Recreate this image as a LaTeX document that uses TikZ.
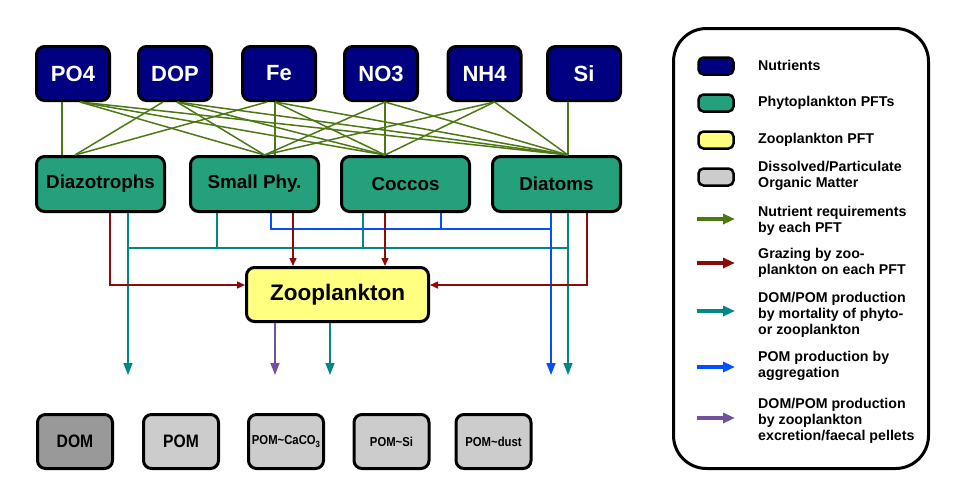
\documentclass[tikz,border=0pt]{standalone}
\usepackage{fontspec}
\setmainfont{Liberation Sans}
\newfontfamily\narrowsans[FakeStretch=0.87]{Liberation Sans}
\usetikzlibrary{arrows.meta,calc}
\definecolor{navyc}{RGB}{0,0,128}
\definecolor{phytoc}{RGB}{36,160,124}
\definecolor{zooc}{RGB}{255,255,128}
\definecolor{omc}{RGB}{204,204,204}
\definecolor{domc}{RGB}{153,153,153}
\definecolor{nutc}{RGB}{77,120,20}
\definecolor{grzc}{RGB}{140,10,10}
\definecolor{mortc}{RGB}{0,135,135}
\definecolor{aggc}{RGB}{0,80,255}
\definecolor{excc}{RGB}{112,80,160}
\begin{document}
\begin{tikzpicture}[x=1pt,y=-1pt,
  boxbase/.style={draw=black,line width=3pt,rounded corners=8pt,inner sep=0pt,font=\bfseries},
  nutbox/.style={boxbase,fill=navyc,text=white,minimum width=73pt,minimum height=54pt,font=\bfseries\fontsize{22}{25}\selectfont},
  phybox/.style={boxbase,fill=phytoc,minimum width=128pt,minimum height=55pt,font=\bfseries\fontsize{18.8}{22}\selectfont},
  zoobox/.style={boxbase,fill=zooc,minimum width=182pt,minimum height=54pt,font=\bfseries\fontsize{22.5}{26}\selectfont},
  ombox/.style={boxbase,fill=omc,minimum width=75pt,minimum height=54pt,font=\narrowsans\bfseries\fontsize{13}{15}\selectfont},
  swatch/.style={draw=black,line width=2.5pt,rounded corners=5pt,minimum width=35pt,minimum height=17pt,inner sep=0pt},
  legtext/.style={anchor=west,align=left,inner sep=0pt,font=\bfseries\fontsize{14.2}{16}\selectfont},
  nutline/.style={draw=nutc,line width=1.5pt},
  conn/.style={line width=1.5pt},
  bigtip/.style={-{Triangle[length=12pt,width=9pt]}},
  smalltip/.style={-{Triangle[length=8pt,width=7pt]}},
  legarrow/.style={line width=3.5pt,-{Triangle[length=12pt,width=10pt]}}
]
\useasboundingbox (0,0) rectangle (966,499);

% nutrients
\node[nutbox] (po4) at (73,73.5) {PO4};
\node[nutbox] (dop) at (175,73.5) {DOP};
\node[nutbox] (fe)  at (279,73.5) {Fe};
\node[nutbox] (no3) at (381,73.5) {NO3};
\node[nutbox] (nh4) at (484.5,73.5) {NH4};
\node[nutbox] (si)  at (584,73.5) {Si};

% phytoplankton
\node[phybox] (diaz) at (100.5,184) {Diazotrophs};
\node[phybox] (small) at (254.5,184) {Small Phy.};
\node[phybox] (cocc) at (405.5,184) {Coccos};
\node[phybox] (diat) at (556.5,184) {Diatoms};

% zooplankton
\node[zoobox] (zoo) at (337.5,294.5) {Zooplankton};

% organic matter
\node[ombox,fill=domc,font=\narrowsans\bfseries\fontsize{18}{20}\selectfont] (dom) at (75,441.5) {DOM};
\node[ombox,font=\narrowsans\bfseries\fontsize{18}{20}\selectfont] (pom) at (181,441.5) {POM};
\node[ombox] (pomca) at (286,441.5) {POM\textasciitilde CaCO\raisebox{-2.5pt}{\fontsize{9}{9}\selectfont 3}};
\node[ombox] (pomsi) at (391.5,441.5) {POM\textasciitilde Si};
\node[ombox] (pomdu) at (493.5,441.5) {POM\textasciitilde dust};

% green line anchors
\coordinate (po4v) at ([xshift=-11pt]po4.south);
\coordinate (po4o) at ([xshift=7pt]po4.south);
\coordinate (dopd) at ([xshift=-12pt]dop.south);
\coordinate (dopo) at ([xshift=2pt]dop.south);
\coordinate (fed)  at ([xshift=-12pt]fe.south);
\coordinate (feo)  at ([xshift=-4pt]fe.south);
\coordinate (no3o) at ([xshift=4pt]no3.south);
\coordinate (nh4o) at ([xshift=10pt]nh4.south);
\coordinate (sio)  at ([xshift=-16pt]si.south);
\coordinate (dzv) at ([xshift=-38.5pt]diaz.north);
\coordinate (dzi) at ([xshift=-25.5pt]diaz.north);
\coordinate (smv) at ([xshift=20.5pt]small.north);
\coordinate (smi) at ([xshift=10pt]small.north);
\coordinate (cci) at ([xshift=-20.5pt]cocc.north);
\coordinate (dti) at ([xshift=11.5pt]diat.north);

\draw[nutline] (po4v) -- (dzv);
\draw[nutline] (po4o) -- (smi);
\draw[nutline] (po4o) -- (cci);
\draw[nutline] (po4o) -- (dti);
\draw[nutline] (dopd) -- (dzi);
\draw[nutline] (dopo) -- (smi);
\draw[nutline] (dopo) -- (cci);
\draw[nutline] (dopo) -- (dti);
\draw[nutline] (fed) -- (dzi);
\draw[nutline] (feo) -- (smv);
\draw[nutline] (feo) -- (cci);
\draw[nutline] (feo) -- (dti);
\draw[nutline] (no3o) -- (smi);
\draw[nutline] (no3o) -- (cci);
\draw[nutline] (no3o) -- (dti);
\draw[nutline] (nh4o) -- (smi);
\draw[nutline] (nh4o) -- (cci);
\draw[nutline] (nh4o) -- (dti);
\draw[nutline] (sio) -- (dti);

% connector anchors
\coordinate (dzr) at ([xshift=9.5pt]diaz.south);
\coordinate (dzt) at ([xshift=27.5pt]diaz.south);
\coordinate (smt) at ([xshift=-37.5pt]small.south);
\coordinate (smb) at ([xshift=16.5pt]small.south);
\coordinate (smr) at ([xshift=38.5pt]small.south);
\coordinate (cct) at ([xshift=-42.5pt]cocc.south);
\coordinate (ccr) at ([xshift=-20.5pt]cocc.south);
\coordinate (ccb) at ([xshift=35.5pt]cocc.south);
\coordinate (dtb) at ([xshift=-5.5pt]diat.south);
\coordinate (dtt) at ([xshift=11.5pt]diat.south);
\coordinate (dtr) at ([xshift=30.5pt]diat.south);
\coordinate (zp) at ([xshift=-62.5pt]zoo.south);
\coordinate (zt) at ([xshift=-7.5pt]zoo.south);
\coordinate (tealy) at (0,248);
\coordinate (bluey) at (0,229);
\coordinate (endy) at (0,375);
\coordinate (dzend) at (dzt |- endy);
\coordinate (dtbend) at (dtb |- endy);
\coordinate (dttend) at (dtt |- endy);
\coordinate (zpend) at (zp |- endy);
\coordinate (ztend) at (zt |- endy);

% mortality (teal)
\draw[conn,draw=mortc,bigtip] (dzt) -- (dzend);
\draw[conn,draw=mortc] (dzt |- tealy) -- (dtt |- tealy);
\draw[conn,draw=mortc] (smt) -- (smt |- tealy);
\draw[conn,draw=mortc] (cct) -- (cct |- tealy);
\draw[conn,draw=mortc,bigtip] (dtt) -- (dttend);
\draw[conn,draw=mortc,bigtip] (zt) -- (ztend);

% aggregation (blue)
\draw[conn,draw=aggc] (smb) |- (dtb |- bluey);
\draw[conn,draw=aggc] (ccb) -- (ccb |- bluey);
\draw[conn,draw=aggc,bigtip] (dtb) -- (dtbend);

% grazing (red)
\draw[conn,draw=grzc,smalltip] (dzr) |- ([yshift=9.5pt]zoo.west);
\draw[conn,draw=grzc,smalltip] (dtr) |- ([yshift=9.5pt]zoo.east);
\draw[conn,draw=grzc,smalltip] (smr) -- (smr |- zoo.north);
\draw[conn,draw=grzc,smalltip] (ccr) -- (ccr |- zoo.north);

% excretion (purple)
\draw[conn,draw=excc,bigtip] (zp) -- (zpend);

% legend
\node[draw=black,line width=3pt,rounded corners=33pt,minimum width=255pt,minimum height=440pt,inner sep=0pt] (legend) at (801,248.5) {};
\node[swatch,fill=navyc] (lnut) at (716,66) {};
\node[swatch,fill=phytoc] (lphy) at (716,103) {};
\node[swatch,fill=zooc] (lzoo) at (716,140) {};
\node[swatch,fill=omc] (lom) at (716,177) {};
\node[legtext] (tnut) at (758,65) {Nutrients};
\node[legtext] (tphy) at (758,103) {Phytoplankton PFTs};
\node[legtext] (tzoo) at (758,140) {Zooplankton PFT};
\node[legtext] (tom) at (758,176) {Dissolved/Particulate\\Organic Matter};
\node[legtext] (tnl) at (758,221) {Nutrient requirements\\by each PFT};
\node[legtext] (tgr) at (758,263) {Grazing by zoo-\\plankton on each PFT};
\node[legtext] (tmo) at (758,315) {DOM/POM production\\by mortality of phyto-\\or zooplankton};
\node[legtext] (tag) at (758,366) {POM production by\\aggregation};
\node[legtext] (tex) at (758,421) {DOM/POM production\\by zooplankton\\excretion/faecal pellets};
\coordinate (la1) at (697,219); \coordinate (lb1) at (735,219);
\coordinate (la2) at (697,263); \coordinate (lb2) at (735,263);
\coordinate (la3) at (697,311); \coordinate (lb3) at (735,311);
\coordinate (la4) at (697,367); \coordinate (lb4) at (735,367);
\coordinate (la5) at (697,418); \coordinate (lb5) at (735,418);
\draw[legarrow,draw=nutc] (la1) -- (lb1);
\draw[legarrow,draw=grzc] (la2) -- (lb2);
\draw[legarrow,draw=mortc] (la3) -- (lb3);
\draw[legarrow,draw=aggc] (la4) -- (lb4);
\draw[legarrow,draw=excc] (la5) -- (lb5);
\end{tikzpicture}
\end{document}
